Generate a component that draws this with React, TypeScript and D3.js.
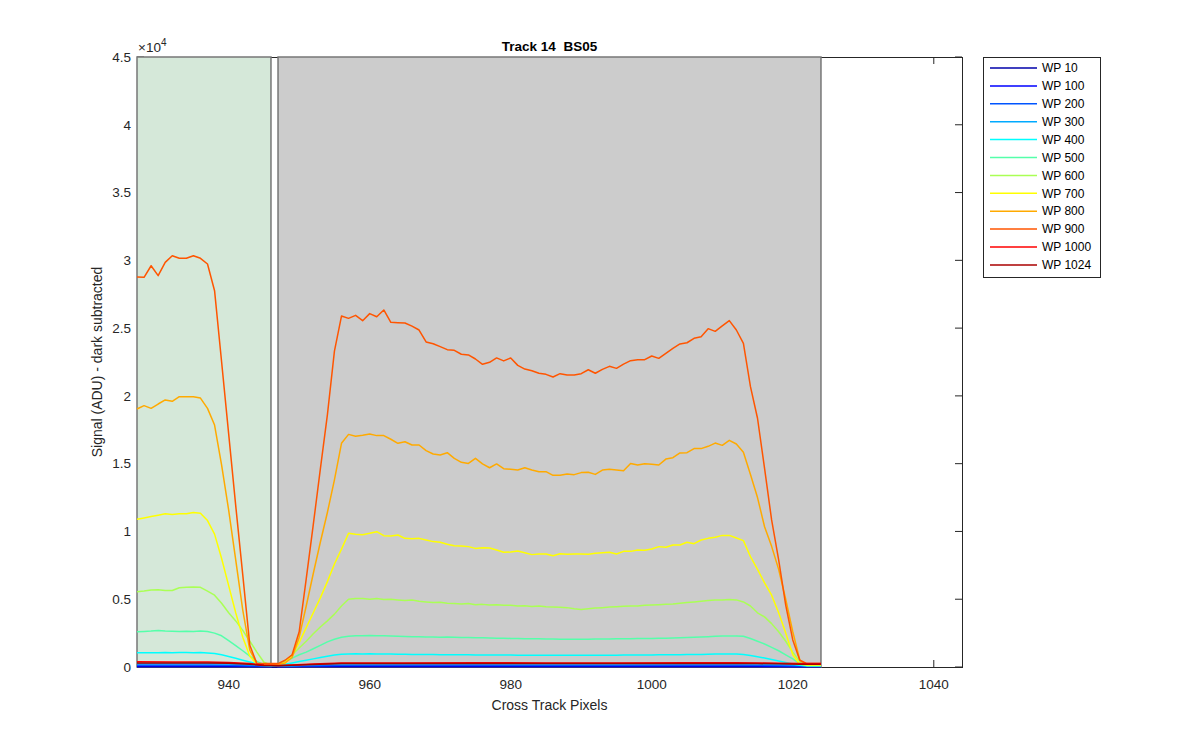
import React from "react";
import * as d3 from "d3";

// cross track pixel index (x) for the full-resolution series
const pixels = d3.range(927, 1025);
// sparse pixel positions for the near-zero series
const lowPixels = [927, 932, 937, 940, 943, 945, 947, 949, 952, 956, 965, 975, 985, 995, 1005, 1012, 1015, 1018, 1021, 1024];

const wpLabels = ["WP 10", "WP 100", "WP 200", "WP 300", "WP 400", "WP 500", "WP 600", "WP 700", "WP 800", "WP 900", "WP 1000", "WP 1024"];

const wp10 = [15, 15, 15, 15, 12, 12, 10, 10, 12, 15, 15, 15, 15, 15, 15, 15, 15, 12, 12, 10];
const wp100 = [70, 70, 70, 65, 50, 40, 35, 40, 50, 65, 70, 70, 65, 65, 70, 70, 65, 55, 45, 40];
const wp200 = [140, 140, 140, 130, 100, 70, 55, 65, 100, 130, 140, 140, 135, 135, 140, 140, 130, 105, 80, 70];
const wp300 = [240, 240, 240, 220, 160, 100, 80, 100, 170, 220, 230, 230, 225, 225, 230, 230, 220, 180, 130, 110];

const wp400 = [
  1050, 1060, 1050, 1060, 1070, 1060, 1070, 1070, 1060, 1070,
  1040, 1000, 900, 780, 640, 500, 370, 240, 130, 100,
  120, 200, 300, 400, 500, 600, 700, 800, 880, 940,
  960, 970, 960, 970, 960, 950, 950, 940, 940, 930,
  930, 920, 920, 910, 910, 900, 900, 900, 890, 890,
  890, 880, 880, 880, 870, 870, 870, 870, 860, 860,
  860, 860, 860, 860, 860, 870, 870, 870, 870, 880,
  880, 880, 890, 890, 900, 900, 910, 910, 920, 930,
  930, 940, 950, 950, 960, 950, 920, 850, 760, 660,
  560, 450, 330, 220, 120, 80, 80, 80,
];

const wp500 = [
  2600, 2620, 2650, 2700, 2650, 2630, 2620, 2630, 2620, 2650,
  2620, 2500, 2300, 1950, 1580, 1200, 800, 420, 180, 150,
  250, 450, 650, 900, 1100, 1350, 1600, 1850, 2050, 2200,
  2270, 2300, 2300, 2320, 2300, 2300, 2280, 2260, 2250, 2240,
  2230, 2220, 2210, 2200, 2210, 2190, 2180, 2170, 2160, 2150,
  2140, 2130, 2120, 2110, 2100, 2090, 2090, 2080, 2070, 2060,
  2050, 2050, 2040, 2040, 2050, 2060, 2060, 2070, 2080, 2080,
  2090, 2100, 2110, 2110, 2120, 2130, 2140, 2160, 2180, 2200,
  2220, 2240, 2260, 2280, 2290, 2290, 2270, 2100, 1900, 1700,
  1450, 1200, 900, 600, 250, 100, 100, 100,
];

const wp600 = [
  5560, 5600, 5680, 5700, 5650, 5640, 5850, 5880, 5900, 5880,
  5600, 5300, 4700, 4000, 3400, 2700, 1900, 1100, 350, 150,
  150, 400, 900, 1400, 1900, 2450, 2950, 3400, 3900, 4500,
  5000, 5050, 5050, 5000, 5050, 4980, 5000, 4950, 4900, 4950,
  4850, 4800, 4750, 4780, 4700, 4680, 4650, 4680, 4600, 4620,
  4580, 4600, 4550, 4560, 4500, 4520, 4470, 4500, 4450, 4420,
  4400, 4380, 4300, 4250, 4300, 4350, 4380, 4420, 4450, 4480,
  4500, 4500, 4550, 4580, 4600, 4620, 4650, 4700, 4750, 4800,
  4850, 4900, 4950, 4950, 4980, 4950, 4800, 4500, 4000, 3700,
  3200, 2600, 1900, 1100, 400, 150, 150, 150,
];

const wp700 = [
  10900, 11000, 11100, 11200, 11300, 11250, 11300, 11300, 11400, 11350,
  10800, 9800, 8000, 6000, 4000, 2200, 800, 200, 150, 150,
  200, 300, 900, 1800, 2900, 4000, 5100, 6300, 7600, 8700,
  9860, 9790, 9760, 9860, 9980, 9690, 9660, 9740, 9490, 9470,
  9490, 9370, 9250, 9200, 9050, 8950, 8930, 8880, 8750, 8800,
  8780, 8630, 8460, 8480, 8560, 8430, 8290, 8340, 8340, 8210,
  8360, 8310, 8340, 8340, 8310, 8390, 8430, 8460, 8340, 8530,
  8530, 8630, 8610, 8700, 8880, 8830, 9000, 9000, 9200, 9100,
  9370, 9490, 9570, 9710, 9710, 9520, 9320, 8140, 7200, 6200,
  5300, 4000, 2500, 900, 200, 150, 150, 150,
];

const wp800 = [
  19030, 19280, 19080, 19400, 19700, 19600, 19940, 19940, 19940, 19840,
  19080, 17850, 14900, 11580, 7900, 4200, 1250, 250, 200, 200,
  200, 300, 700, 2200, 4500, 6900, 9200, 11400, 13800, 16500,
  17160, 17020, 17090, 17190, 17070, 17070, 16800, 16500, 16620, 16380,
  16380, 15960, 15710, 15640, 15810, 15390, 15100, 15020, 15390, 14980,
  14700, 14980, 14630, 14580, 14530, 14700, 14530, 14410, 14410, 14140,
  14140, 14240, 14190, 14340, 14360, 14210, 14530, 14580, 14530, 14480,
  15020, 14900, 15000, 14950, 14900, 15340, 15440, 15790, 15810, 16110,
  16110, 16280, 16520, 16350, 16720, 16450, 15840, 14200, 12500, 10350,
  8900, 7200, 5000, 2600, 500, 200, 200, 200,
];

const wp900 = [
  28770, 28750, 29600, 28870, 29850, 30340, 30150, 30150, 30340, 30150,
  29730, 27760, 22500, 17200, 11900, 6800, 1600, 250, 250, 250,
  250, 500, 900, 2600, 6500, 10500, 14600, 18600, 23300, 25890,
  25720, 25940, 25550, 26070, 25840, 26340, 25430, 25400, 25380, 25150,
  24860, 23980, 23850, 23630, 23410, 23360, 23070, 23020, 22720, 22330,
  22480, 22800, 22580, 22800, 22250, 21980, 21860, 21670, 21590, 21390,
  21640, 21540, 21540, 21640, 21930, 21670, 21960, 22180, 22030, 22340,
  22600, 22670, 22670, 22940, 22770, 23140, 23510, 23830, 23920, 24250,
  24370, 24960, 24760, 25160, 25550, 24860, 23880, 20680, 18350, 14660,
  10850, 7900, 4570, 2000, 500, 250, 250, 250,
];

const wp1000 = [380, 370, 375, 340, 250, 140, 110, 150, 230, 290, 300, 310, 300, 300, 310, 310, 300, 280, 260, 250];
const wp1024 = [300, 300, 300, 270, 200, 110, 90, 120, 190, 250, 260, 265, 260, 260, 265, 265, 255, 235, 210, 200];

// shaded pixel ranges (green: left zone, gray: right zone)
const regionStart = [927, 947];
const regionEnd = [946, 1024];

const xTicks = [940, 960, 980, 1000, 1020, 1040];
const yTicks = d3.range(0, 45001, 5000);

// jet(12)
const jet = ["#0000aa", "#0000ff", "#0055ff", "#00aaff", "#00ffff", "#55ffaa", "#aaff55", "#ffff00", "#ffaa00", "#ff5500", "#ff0000", "#aa0000"];
const regionFill = ["#d5e8d9", "#cccccc"];

const seriesX = [lowPixels, lowPixels, lowPixels, lowPixels, pixels, pixels, pixels, pixels, pixels, pixels, lowPixels, lowPixels];
const seriesY = [wp10, wp100, wp200, wp300, wp400, wp500, wp600, wp700, wp800, wp900, wp1000, wp1024];

const font = "'Liberation Sans', Arial, Helvetica, sans-serif";
const axisColor = "#262626";

export default function App() {
  const width = 1200;
  const height = 750;
  const left = 137;
  const right = 962;
  const top = 57;
  const bottom = 667;
  const tickLen = 7;

  const x = d3.scaleLinear().domain([927, 1044]).range([left, right]);
  const y = d3.scaleLinear().domain([0, 45000]).range([bottom, top]);

  const line = d3
    .line<[number, number]>()
    .x(d => x(d[0]))
    .y(d => y(d[1]));

  const legendX = 983.5;
  const legendY = 57.5;
  const rowH = 17.9;

  return (
    <svg
      width={width}
      height={height}
      style={{ position: "absolute", left: 0, top: 0, background: "#fff" }}
      fontFamily={font}
    >
      <rect x={0} y={0} width={width} height={height} fill="#ffffff" />

      {/* axes box with inward ticks */}
      <g stroke={axisColor} strokeWidth={1} fill="none">
        <rect x={left + 0.5} y={top + 0.5} width={right - left} height={bottom - top} />
        {xTicks.map(t => (
          <g key={"xt" + t}>
            <line x1={x(t)} x2={x(t)} y1={bottom} y2={bottom - tickLen} />
            <line x1={x(t)} x2={x(t)} y1={top} y2={top + tickLen} />
          </g>
        ))}
        {yTicks.map(t => (
          <g key={"yt" + t}>
            <line x1={left} x2={left + tickLen} y1={y(t)} y2={y(t)} />
            <line x1={right} x2={right - tickLen} y1={y(t)} y2={y(t)} />
          </g>
        ))}
      </g>

      {/* shaded regions */}
      {regionStart.map((s, i) => (
        <rect
          key={"r" + i}
          x={x(s)}
          y={y(45000)}
          width={x(regionEnd[i]) - x(s)}
          height={y(0) - y(45000)}
          fill={regionFill[i]}
          stroke="#777777"
          strokeWidth={1.5}
        />
      ))}

      {/* series */}
      {seriesY.map((ys, i) => (
        <path
          key={"s" + i}
          d={line(ys.map((v, j) => [seriesX[i][j], v] as [number, number])) || ""}
          fill="none"
          stroke={jet[i]}
          strokeWidth={1.5}
          strokeLinejoin="round"
        />
      ))}

      {/* tick labels */}
      <g fill={axisColor} fontSize={13.5}>
        {xTicks.map(t => (
          <text key={"xl" + t} x={x(t)} y={689} textAnchor="middle">
            {t}
          </text>
        ))}
        {yTicks.map(t => (
          <text key={"yl" + t} x={131} y={y(t)} dy="0.35em" textAnchor="end">
            {t / 10000}
          </text>
        ))}
        <text x={138} y={52}>
          ×10
          <tspan dy={-6} fontSize={10}>
            4
          </tspan>
        </text>
      </g>

      {/* title and labels */}
      <text
        x={(left + right) / 2}
        y={51}
        textAnchor="middle"
        fontWeight="bold"
        fontSize={13.5}
        fill="#000"
        style={{ whiteSpace: "pre" }}
      >
        {"Track 14  BS05"}
      </text>
      <text x={(left + right) / 2} y={710} textAnchor="middle" fontSize={14} fill={axisColor}>
        Cross Track Pixels
      </text>
      <text
        transform={`translate(102, ${(top + bottom) / 2}) rotate(-90)`}
        textAnchor="middle"
        fontSize={14}
        fill={axisColor}
      >
        Signal (ADU) - dark subtracted
      </text>

      {/* legend */}
      <g>
        <rect x={legendX} y={legendY} width={117} height={220} fill="#fff" stroke={axisColor} strokeWidth={1} />
        {wpLabels.map((name, i) => {
          const cy = 68 + i * rowH;
          return (
            <g key={"lg" + i}>
              <line x1={990} x2={1037} y1={cy} y2={cy} stroke={jet[i]} strokeWidth={1.5} />
              <text x={1042} y={cy} dy="0.35em" fontSize={12} fill="#000">
                {name}
              </text>
            </g>
          );
        })}
      </g>
    </svg>
  );
}
